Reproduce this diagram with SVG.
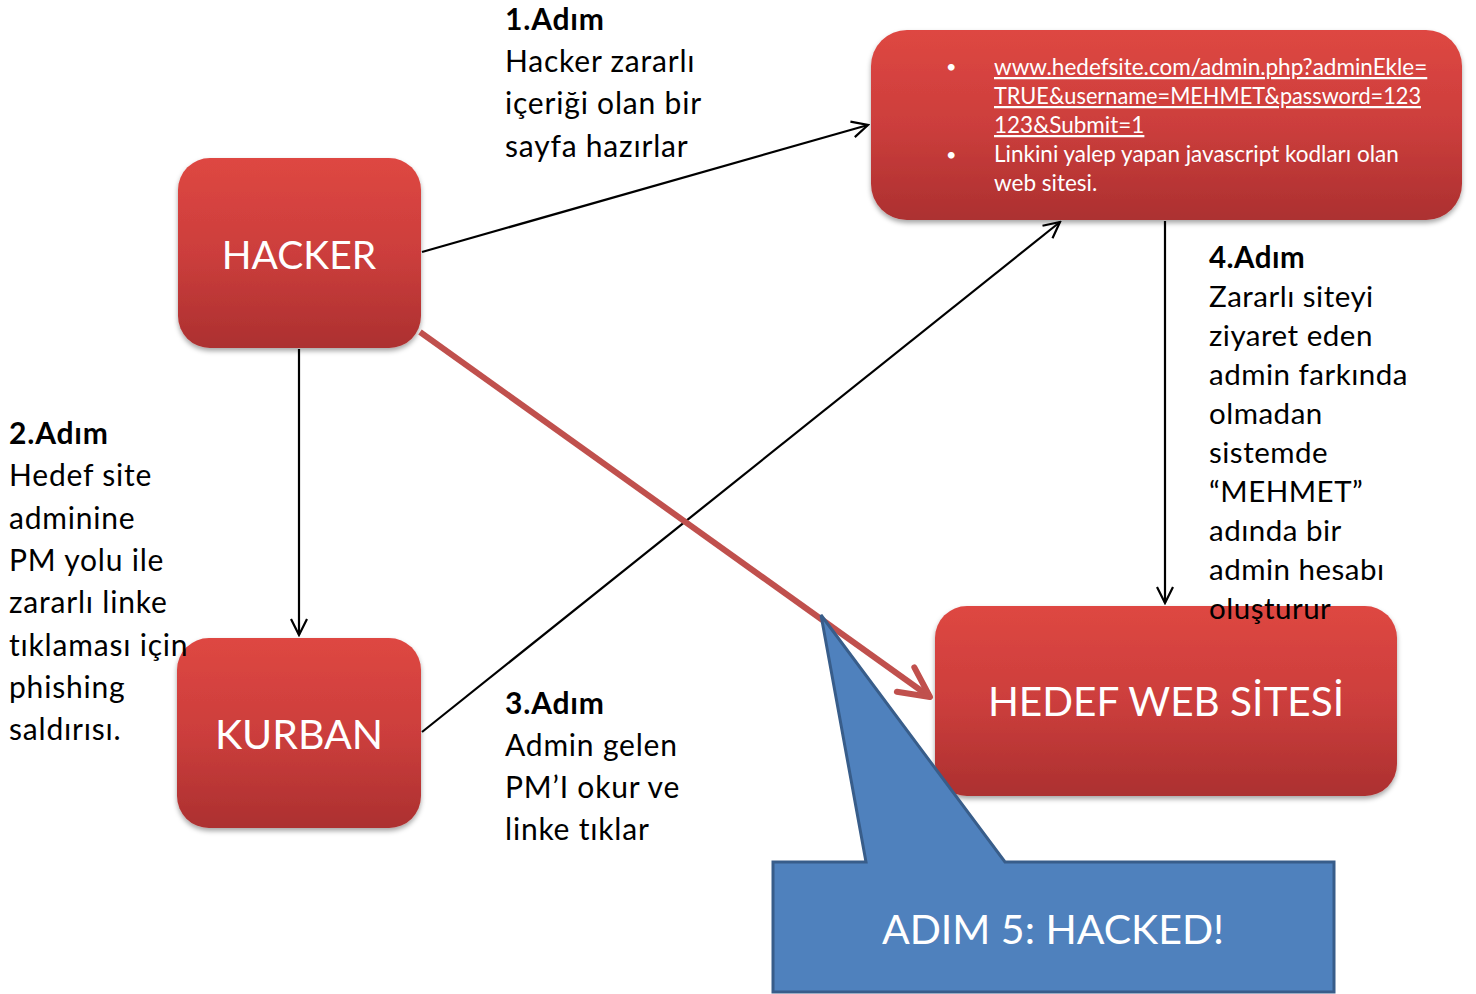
<svg xmlns="http://www.w3.org/2000/svg" width="1476" height="994" viewBox="0 0 1476 994">
<style>
.t{font-family:Lato,"Open Sans",sans-serif;font-size:30px;letter-spacing:0.8px;fill:#000}
.t4{font-size:29.5px;letter-spacing:0.5px}
.b{font-weight:bold}
.w{font-family:Lato,"Open Sans",sans-serif;fill:#fff}
.box{fill:url(#rg);filter:url(#sh)}
.c{stroke:#000;stroke-width:2.2;fill:none;marker-end:url(#ar)}
</style>
<defs>
<linearGradient id="rg" x1="0" y1="0" x2="0" y2="1">
<stop offset="0" stop-color="#DE4742"/>
<stop offset="0.5" stop-color="#CC3E3C"/>
<stop offset="1" stop-color="#AC3030"/>
</linearGradient>
<filter id="sh" x="-10%" y="-10%" width="120%" height="130%">
<feDropShadow dx="0" dy="3" stdDeviation="2.5" flood-color="#000" flood-opacity="0.35"/>
</filter>
<marker id="ar" viewBox="0 0 20 20" refX="18" refY="10" markerWidth="20" markerHeight="20" markerUnits="userSpaceOnUse" orient="auto">
<path d="M2,2 L18,10 L2,18" fill="none" stroke="#000" stroke-width="2.2"/>
</marker>
<marker id="ar2" viewBox="0 0 40 40" refX="36" refY="20" markerWidth="40" markerHeight="40" markerUnits="userSpaceOnUse" orient="auto">
<path d="M6,5 L36,20 L6,35" fill="none" stroke="#C0504D" stroke-width="6" stroke-linecap="round" stroke-linejoin="round"/>
</marker>
</defs>
<rect width="1476" height="994" fill="#fff"/>

<g id="hacker">
<rect class="box" x="178" y="158" width="243" height="190" rx="32"/>
<text class="w" x="299" y="269" font-size="39" text-anchor="middle">HACKER</text>
</g>
<g id="kurban">
<rect class="box" x="177" y="638" width="244" height="190" rx="32"/>
<text class="w" x="299" y="749" font-size="41" text-anchor="middle">KURBAN</text>
</g>
<g id="site">
<rect class="box" x="871" y="30" width="591" height="190" rx="36"/>
<g class="w" font-size="22.5">
<text x="946" y="73" font-size="18">•</text>
<text x="946" y="161" font-size="18">•</text>
<text x="994" y="75" text-decoration="underline">www.hedefsite.com/admin.php?adminEkle=</text>
<text x="994" y="104" text-decoration="underline" textLength="427" lengthAdjust="spacingAndGlyphs">TRUE&amp;username=MEHMET&amp;password=123</text>
<text x="994" y="133" text-decoration="underline">123&amp;Submit=1</text>
<text x="994" y="162">Linkini yalep yapan javascript kodları olan</text>
<text x="994" y="191">web sitesi.</text>
</g>
</g>
<g id="hedef">
<rect class="box" x="935" y="606" width="462" height="190" rx="32"/>
<text class="w" x="1166" y="716" font-size="40.5" text-anchor="middle">HEDEF WEB SİTESİ</text>
</g>

<g id="connectors">
<line class="c" x1="422" y1="252" x2="868" y2="125"/>
<line class="c" x1="299" y1="349" x2="299" y2="635"/>
<line class="c" x1="422" y1="732" x2="1060" y2="222"/>
<line class="c" x1="1165" y1="221" x2="1165" y2="603"/>
<line x1="420" y1="332" x2="930" y2="697" stroke="#C0504D" stroke-width="6" marker-end="url(#ar2)"/>
</g>

<g id="callout">
<path d="M773,862 L866,862 L821,615 L1005,862 L1334,862 L1334,992 L773,992 Z" fill="#4F81BD" stroke="#385D8A" stroke-width="3"/>
<text class="w" x="1053" y="944" font-size="41" text-anchor="middle">ADIM 5: HACKED!</text>
</g>

<g id="labels">
<text class="t" x="505" y="30"><tspan class="b">1.Adım</tspan><tspan x="505" y="72">Hacker zararlı</tspan><tspan x="505" y="114">içeriği olan bir</tspan><tspan x="505" y="157">sayfa hazırlar</tspan></text>
<text class="t" x="9" y="444"><tspan class="b">2.Adım</tspan><tspan x="9" y="486">Hedef site</tspan><tspan x="9" y="529">adminine</tspan><tspan x="9" y="571">PM yolu ile</tspan><tspan x="9" y="613">zararlı linke</tspan><tspan x="9" y="656">tıklaması için</tspan><tspan x="9" y="698">phishing</tspan><tspan x="9" y="740">saldırısı.</tspan></text>
<text class="t" x="505" y="714"><tspan class="b">3.Adım</tspan><tspan x="505" y="756">Admin gelen</tspan><tspan x="505" y="798">PM’I okur ve</tspan><tspan x="505" y="840">linke tıklar</tspan></text>
<text class="t t4" x="1209" y="268"><tspan class="b">4.Adım</tspan><tspan x="1209" y="307">Zararlı siteyi</tspan><tspan x="1209" y="346">ziyaret eden</tspan><tspan x="1209" y="385">admin farkında</tspan><tspan x="1209" y="424">olmadan</tspan><tspan x="1209" y="463">sistemde</tspan><tspan x="1209" y="502">“MEHMET”</tspan><tspan x="1209" y="541">adında bir</tspan><tspan x="1209" y="580">admin hesabı</tspan><tspan x="1209" y="619">oluşturur</tspan></text>
</g>
</svg>
